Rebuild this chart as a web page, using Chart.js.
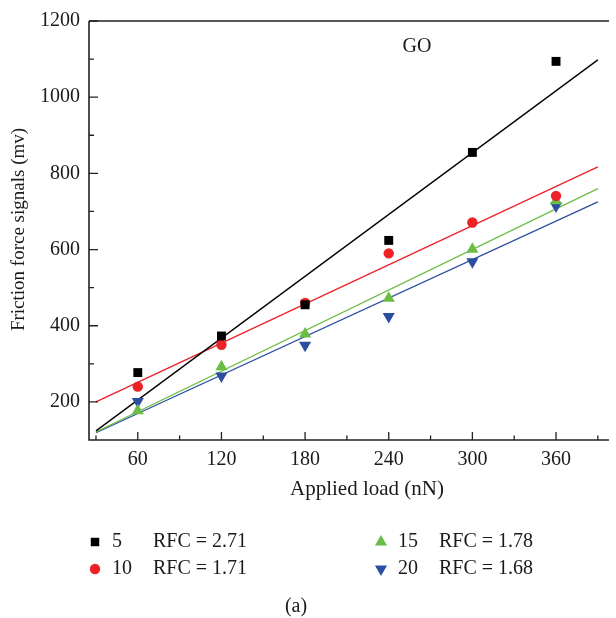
<!DOCTYPE html>
<html>
<head>
<meta charset="utf-8">
<script src="https://cdn.jsdelivr.net/npm/chart.js@4.4.1/dist/chart.umd.min.js"></script>
<style>
html,body{margin:0;padding:0;background:#fff;}
#wrap{width:616px;height:618px;position:relative;}
</style>
</head>
<body>
<div id="wrap"><canvas id="c" width="616" height="618"></canvas></div>
<script>
// ---- data ----
const loads = [60, 120, 180, 240, 300, 360];
const s5  = [277, 373, 455, 624, 855, 1094];
const s10 = [240, 350, 460, 590, 671, 741];
const s15 = [177, 292, 378, 472, 601, 728];
const s20 = [201, 268, 349, 424, 568, 714];

const fitX   = [30, 390];
const fit5   = [124, 1098];
const fit10  = [200, 817];
const fit15  = [121, 760];
const fit20  = [119, 725];

const xTicks = [60, 120, 180, 240, 300, 360];
const xMinor = [30, 90, 150, 210, 270, 330, 390];
const yTicks = [200, 400, 600, 800, 1000, 1200];
const yMinor = [300, 500, 700, 900, 1100];

const seriesNames = ['5', '10', '15', '20'];
const rfcLabels = ['RFC = 2.71', 'RFC = 1.71', 'RFC = 1.78', 'RFC = 1.68'];
const colors = ['#000000', '#ec2227', '#6bbd45', '#2c4ea1'];

const xTitle = 'Applied load (nN)';
const yTitle = 'Friction force signals (mv)';
const panelLabel = 'GO';
const caption = '(a)';

const FONT = '"Liberation Serif", "Times New Roman", serif';
const TXT = '#1a1a1a';

function pts(xs, ys) { return xs.map((x, i) => ({x: x, y: ys[i]})); }

const series = [s5, s10, s15, s20];
const styles = ['rect', 'circle', 'triangle', 'triangle'];
const radii = [6.3, 5.2, 7, 7];
const rots = [0, 0, 0, 180];
const fits = [fit5, fit10, fit15, fit20];

const datasets = [];
series.forEach((s, i) => {
  datasets.push({
    label: seriesNames[i], data: pts(loads, s), showLine: false,
    pointStyle: styles[i], pointRadius: radii[i], pointRotation: rots[i],
    backgroundColor: colors[i], borderColor: colors[i], borderWidth: 0
  });
});
fits.forEach((f, i) => {
  datasets.push({
    label: 'fit' + seriesNames[i], data: pts(fitX, f), showLine: true,
    pointRadius: 0, borderColor: colors[i], borderWidth: 1.3, fill: false
  });
});

function drawShape(ctx, style, x, y, r, rot, color) {
  ctx.save();
  ctx.fillStyle = color;
  ctx.beginPath();
  if (style === 'rect') {
    const s = Math.SQRT1_2 * r;
    ctx.rect(x - s, y - s, 2 * s, 2 * s);
  } else if (style === 'circle') {
    ctx.arc(x, y, r, 0, Math.PI * 2);
  } else {
    const base = rot * Math.PI / 180;
    for (let k = 0; k < 3; k++) {
      const a = base + k * 2 * Math.PI / 3;
      const px = x + Math.sin(a) * r, py = y - Math.cos(a) * r;
      if (k === 0) ctx.moveTo(px, py); else ctx.lineTo(px, py);
    }
    ctx.closePath();
  }
  ctx.fill();
  ctx.restore();
}

const decor = {
  id: 'decor',
  afterDatasetsDraw(chart) {
    const ctx = chart.ctx;
    const xs = chart.scales.x, ys = chart.scales.y;
    const a = chart.chartArea;
    ctx.save();
    ctx.strokeStyle = '#222';
    ctx.lineWidth = 1.6;
    // frame: left, bottom, top
    ctx.beginPath();
    ctx.moveTo(a.left, a.top); ctx.lineTo(a.right, a.top);
    ctx.moveTo(a.left, a.top); ctx.lineTo(a.left, a.bottom);
    ctx.lineTo(a.right, a.bottom);
    ctx.stroke();
    ctx.lineWidth = 1.3;
    ctx.beginPath();
    xTicks.forEach(v => { const p = xs.getPixelForValue(v); ctx.moveTo(p, a.bottom); ctx.lineTo(p, a.bottom - 8); });
    xMinor.forEach(v => { const p = xs.getPixelForValue(v); ctx.moveTo(p, a.bottom); ctx.lineTo(p, a.bottom - 4.5); });
    yTicks.forEach(v => { const p = ys.getPixelForValue(v); ctx.moveTo(a.left, p); ctx.lineTo(a.left + 9, p); });
    yMinor.forEach(v => { const p = ys.getPixelForValue(v); ctx.moveTo(a.left, p); ctx.lineTo(a.left + 5, p); });
    ctx.stroke();

    ctx.fillStyle = TXT;
    ctx.textAlign = 'center';
    ctx.textBaseline = 'middle';

    // axis titles
    ctx.font = '21px ' + FONT;
    ctx.fillText(xTitle, 367, 489);
    ctx.save();
    ctx.translate(19, (a.top + a.bottom) / 2 - 1);
    ctx.rotate(-Math.PI / 2);
    ctx.font = '19px ' + FONT;
    ctx.fillText(yTitle, 0, 0);
    ctx.restore();

    // GO label
    ctx.font = '20px ' + FONT;
    ctx.fillText(panelLabel, 417, 47);

    // legend
    const lx = [95, 381], ly = [542, 569];
    const order = [[0, 0], [0, 1], [1, 0], [1, 1]];
    order.forEach((o, i) => {
      const cx = lx[o[0]], cy = ly[o[1]];
      drawShape(ctx, styles[i], cx, cy, radii[i] * (i === 0 ? 0.95 : 1), rots[i], colors[i]);
      ctx.fillStyle = TXT;
      ctx.textAlign = 'left';
      ctx.fillText(seriesNames[i], cx + 17, cy);
      ctx.fillText(rfcLabels[i], cx + 58, cy);
    });
    ctx.textAlign = 'center';
    ctx.fillText(caption, 296, 607);
    ctx.restore();
  }
};

Chart.defaults.font.family = FONT;
Chart.defaults.color = TXT;

new Chart(document.getElementById('c'), {
  type: 'scatter',
  data: { datasets: datasets },
  options: {
    responsive: false,
    animation: false,
    devicePixelRatio: 1,
    layout: { padding: { top: 21, right: 0, left: 0, bottom: 108 } },
    plugins: { legend: { display: false }, tooltip: { enabled: false } },
    scales: {
      x: {
        type: 'linear', min: 25, max: 398,
        grid: { display: false, drawTicks: false },
        border: { display: false },
        afterBuildTicks: s => { s.ticks = xTicks.map(v => ({value: v})); },
        afterFit: s => { s.height = 70; },
        ticks: { font: { size: 20 }, color: TXT, padding: 8, maxRotation: 0, autoSkip: false, callback: v => String(v) },
        title: { display: false }
      },
      y: {
        type: 'linear', min: 100, max: 1200,
        grid: { display: false, drawTicks: false },
        border: { display: false },
        afterBuildTicks: s => { s.ticks = yTicks.map(v => ({value: v})); },
        afterFit: s => { s.width = 89; },
        ticks: { font: { size: 20 }, color: TXT, padding: 9, autoSkip: false, callback: v => String(v) },
        title: { display: false }
      }
    }
  },
  plugins: [decor]
});
</script>
</body>
</html>
